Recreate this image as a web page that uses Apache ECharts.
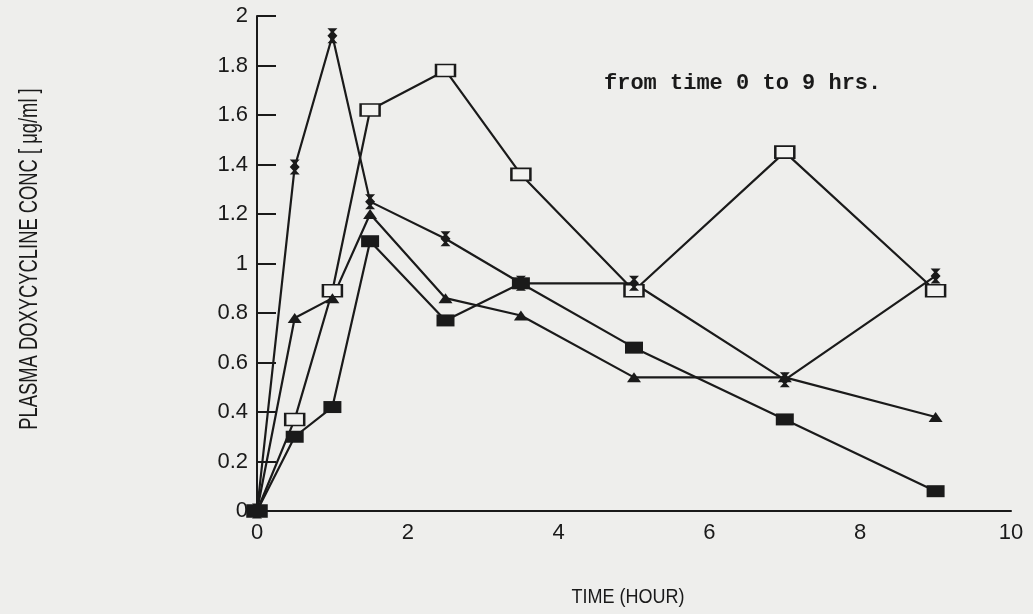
<!DOCTYPE html>
<html>
<head>
<meta charset="utf-8">
<title>Plasma doxycycline concentration</title>
<script src="https://cdn.jsdelivr.net/npm/echarts@6/dist/echarts.min.js"></script>
<style>
  html, body { margin: 0; padding: 0; background: #eeeeec; }
  #chart { width: 1033px; height: 614px; }
</style>
</head>
<body>
<div id="chart"></div>
<script>
// Sampling times (hours)
const times = [0, 0.5, 1, 1.5, 2.5, 3.5, 5, 7, 9];

// Plasma concentration (µg/ml), one array per subject
const openSquare   = [0, 0.37, 0.89, 1.62, 1.78, 1.36, 0.89, 1.45, 0.89];
const triangle     = [0, 0.78, 0.86, 1.20, 0.86, 0.79, 0.54, 0.54, 0.38];
const doubleCross  = [0, 1.39, 1.92, 1.25, 1.10, 0.92, 0.92, 0.53, 0.95];
const filledSquare = [0, 0.30, 0.42, 1.09, 0.77, 0.92, 0.66, 0.37, 0.08];

// Axis ranges and ticks
const xTicks = [0, 2, 4, 6, 8, 10];
const yTicks = [0, 0.2, 0.4, 0.6, 0.8, 1, 1.2, 1.4, 1.6, 1.8, 2];

const yTitle = 'PLASMA DOXYCYCLINE CONC [ \u03BCg/ml ]';
const xTitle = 'TIME (HOUR)';
const note = 'from time 0 to 9 hrs.';

const ink = '#1a1a1a';
const plotFont = "'Liberation Sans', Arial, sans-serif";

function pairs(values) {
  return times.map((t, i) => [t, values[i]]);
}

function lineSeries(name, values, symbol, size, fill, extra) {
  return Object.assign({
    name: name,
    type: 'line',
    data: pairs(values),
    symbol: symbol,
    symbolSize: size,
    showAllSymbol: true,
    animation: false,
    lineStyle: { color: ink, width: 2.2 },
    itemStyle: { color: fill, borderColor: ink, borderWidth: 0, opacity: 1 },
    emphasis: { disabled: true }
  }, extra || {});
}

const chart = echarts.init(document.getElementById('chart'), null, { renderer: 'canvas' });

chart.setOption({
  backgroundColor: '#eeeeec',
  animation: false,
  grid: { left: 257, right: 22, top: 16, bottom: 103, containLabel: false },
  xAxis: {
    type: 'value',
    min: xTicks[0],
    max: xTicks[xTicks.length - 1],
    interval: xTicks[1] - xTicks[0],
    axisLine: { show: true, lineStyle: { color: ink, width: 2 } },
    axisTick: { show: false },
    splitLine: { show: false },
    axisLabel: { color: ink, fontSize: 22, fontFamily: plotFont, margin: 11 }
  },
  yAxis: {
    type: 'value',
    min: yTicks[0],
    max: yTicks[yTicks.length - 1],
    interval: yTicks[1] - yTicks[0],
    axisLine: { show: true, lineStyle: { color: ink, width: 2 } },
    axisTick: { show: true, inside: true, length: 19, lineStyle: { color: ink, width: 2 } },
    splitLine: { show: false },
    axisLabel: { color: ink, fontSize: 22, fontFamily: plotFont, margin: 9 }
  },
  series: [
    lineSeries('open square', openSquare, 'rect', [19, 12], '#f2f2f0',
      { itemStyle: { color: '#f2f2f0', borderColor: ink, borderWidth: 2, opacity: 1 } }),
    lineSeries('triangle', triangle, 'triangle', [14, 10], ink),
    lineSeries('double cross', doubleCross,
      'path://M-5,-7 L5,-7 L1.5,-3.5 L5,0 L1.5,3.5 L5,7 L-5,7 L-1.5,3.5 L-5,0 L-1.5,-3.5 Z',
      [10, 15], ink),
    lineSeries('filled square', filledSquare, 'rect', [18, 12], ink)
  ],
  graphic: [
    {
      // condensed vertical title
      type: 'text',
      x: 30, y: 259,
      rotation: Math.PI / 2,
      scaleX: 0.735,
      style: {
        text: yTitle,
        fill: ink,
        font: "25px 'Liberation Sans', Arial, sans-serif",
        textAlign: 'center',
        textVerticalAlign: 'middle'
      }
    },
    {
      type: 'text',
      x: 628, y: 597,
      scaleX: 0.9,
      style: {
        text: xTitle,
        fill: ink,
        font: "20px 'Liberation Sans', Arial, sans-serif",
        textAlign: 'center',
        textVerticalAlign: 'middle'
      }
    },
    {
      type: 'text',
      x: 604, y: 83,
      style: {
        text: note,
        fill: ink,
        font: "bold 22px 'Liberation Mono', 'DejaVu Sans Mono', monospace",
        textAlign: 'left',
        textVerticalAlign: 'middle'
      }
    }
  ]
});
</script>
</body>
</html>
